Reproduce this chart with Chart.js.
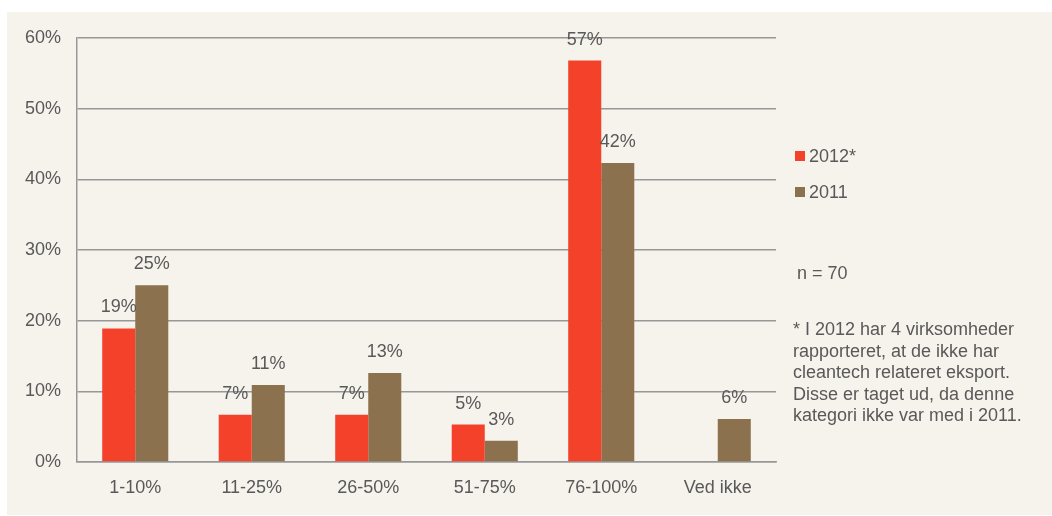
<!DOCTYPE html>
<html>
<head>
<meta charset="utf-8">
<script src="https://cdn.jsdelivr.net/npm/chart.js@4.4.1/dist/chart.umd.min.js"></script>
<style>
  html, body { margin: 0; padding: 0; background: #ffffff; }
  #wrap { position: relative; width: 1052px; height: 516px; overflow: hidden; }
  #bg { position: absolute; left: 7px; top: 12px; right: 0; bottom: 1px; background: #F6F2EC; }
  #c { position: absolute; left: 0; top: 0; }
  .txt { position: absolute; font-family: "Liberation Sans", Arial, sans-serif; font-size: 18px; color: #595959; line-height: 22px; white-space: nowrap; }
  .sw { position: absolute; width: 10px; height: 10px; }
  #note { line-height: 21.5px; }
</style>
</head>
<body>
<div id="wrap">
  <div id="bg"></div>
  <canvas id="c" width="1052" height="516"></canvas>
  <div class="sw" id="sw0" style="left:795px; top:150.5px;"></div>
  <div class="txt" id="lg0" style="left:809px; top:144.5px;"></div>
  <div class="sw" id="sw1" style="left:795px; top:186.5px;"></div>
  <div class="txt" id="lg1" style="left:809px; top:180.5px;"></div>
  <div class="txt" style="left:797px; top:261.5px;">n = 70</div>
  <div class="txt" id="note" style="left:793px; top:319px;">* I 2012 har 4 virksomheder<br>rapporteret, at de ikke har<br>cleantech relateret eksport.<br>Disse er taget ud, da denne<br>kategori ikke var med i 2011.</div>
</div>
<script>
const categories = ["1-10%", "11-25%", "26-50%", "51-75%", "76-100%", "Ved ikke"];
const seriesNames = ["2012*", "2011"];
const values2012 = [18.9, 6.7, 6.7, 5.3, 56.8, null];
const values2011 = [25.0, 10.9, 12.6, 3.0, 42.3, 6.1];
const yTicks = [0, 10, 20, 30, 40, 50, 60];
const colors = ["#F4412A", "#8B714E"];

const FONT = '"Liberation Sans", Arial, sans-serif';
const TXT = '#595959';
const GRID = '#979797';

document.getElementById('sw0').style.background = colors[0];
document.getElementById('sw1').style.background = colors[1];
document.getElementById('lg0').textContent = seriesNames[0];
document.getElementById('lg1').textContent = seriesNames[1];

const valueLabels = {
  id: 'valueLabels',
  afterDatasetsDraw(chart) {
    const ctx = chart.ctx;
    ctx.save();
    ctx.font = '18px ' + FONT;
    ctx.fillStyle = TXT;
    ctx.textAlign = 'center';
    ctx.textBaseline = 'middle';
    chart.data.datasets.forEach((ds, di) => {
      const meta = chart.getDatasetMeta(di);
      meta.data.forEach((el, i) => {
        const v = ds.data[i];
        if (v === null || v === undefined) return;
        ctx.fillText(Math.round(v) + '%', el.x, el.y - 21);
      });
    });
    ctx.restore();
  }
};

new Chart(document.getElementById('c'), {
  type: 'bar',
  data: {
    labels: categories,
    datasets: [
      { label: seriesNames[0], data: values2012, backgroundColor: colors[0], categoryPercentage: 0.567, barPercentage: 1.0 },
      { label: seriesNames[1], data: values2011, backgroundColor: colors[1], categoryPercentage: 0.567, barPercentage: 1.0 }
    ]
  },
  options: {
    responsive: false,
    animation: false,
    devicePixelRatio: 1,
    layout: { padding: { left: 0, top: 38, right: 276, bottom: 0 } },
    plugins: { legend: { display: false }, tooltip: { enabled: false } },
    scales: {
      x: {
        grid: { display: false, drawTicks: false },
        border: { display: true, color: GRID, width: 1.5 },
        ticks: { color: TXT, font: { family: FONT, size: 18 }, padding: 15, maxRotation: 0 },
        afterFit(scale) { scale.height = 54; }
      },
      y: {
        min: 0, max: 60,
        afterBuildTicks(scale) { scale.ticks = yTicks.map(v => ({ value: v })); },
        grid: { color: GRID, lineWidth: 1.5, drawTicks: false },
        border: { display: true, color: GRID, width: 1.5 },
        ticks: { color: TXT, font: { family: FONT, size: 18 }, padding: 16, callback: v => v + '%' },
        afterFit(scale) { scale.width = 77; }
      }
    }
  },
  plugins: [valueLabels]
});
</script>
</body>
</html>
